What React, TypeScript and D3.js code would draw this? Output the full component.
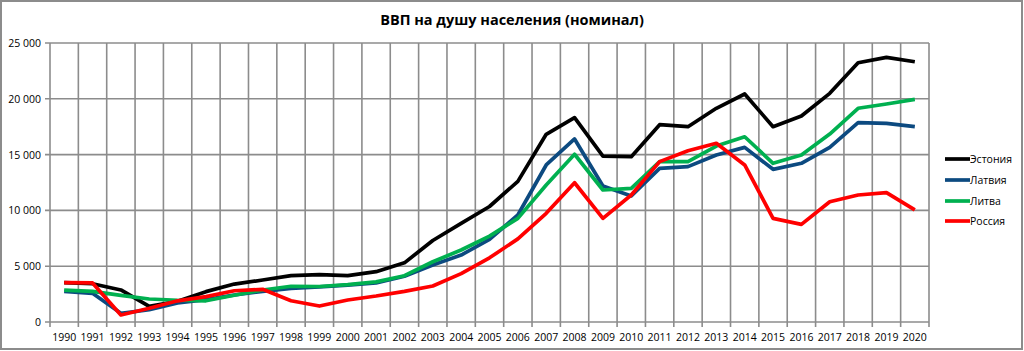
import * as d3 from "d3"

const years = d3.range(1990, 2021).map(String)

const estonia = [3530, 3430, 2870, 1400, 1850, 2720, 3400, 3760, 4150, 4240, 4150, 4510, 5300, 7300, 8840, 10350, 12600, 16820, 18310, 14870, 14810, 17680, 17500, 19150, 20430, 17500, 18460, 20490, 23230, 23710, 23320]
const latvia = [2750, 2570, 780, 1100, 1700, 2000, 2420, 2750, 3000, 3150, 3300, 3500, 4100, 5100, 6000, 7400, 9590, 14070, 16400, 12190, 11290, 13770, 13920, 14960, 15650, 13680, 14220, 15650, 17860, 17800, 17500]
const lithuania = [2850, 2750, 2380, 2060, 1950, 1900, 2400, 2870, 3200, 3180, 3350, 3600, 4150, 5400, 6450, 7700, 9290, 12280, 15030, 11830, 11980, 14370, 14370, 15770, 16600, 14220, 14960, 16840, 19150, 19530, 19950]
const russia = [3520, 3500, 630, 1230, 1900, 2270, 2800, 2930, 1900, 1430, 1970, 2330, 2750, 3230, 4330, 5750, 7450, 9740, 12480, 9290, 11380, 14370, 15350, 16010, 14070, 9290, 8750, 10780, 11380, 11590, 10040]

const seriesNames = ["Эстония", "Латвия", "Литва", "Россия"]
const seriesColors = ["#000000", "#0c4a80", "#00b050", "#ff0000"]
const seriesValues = [estonia, latvia, lithuania, russia]
const yTicks = [0, 5000, 10000, 15000, 20000, 25000]

const W = 1024
const H = 351
const margin = { left: 50, right: 95, top: 43, bottom: 29 }
const font = "'Open Sans', 'Liberation Sans', sans-serif"
const gridColor = "#8c8c8c"

const fmt = (v: number) => d3.format(",")(v).replace(/,/g, "\u00a0")

export default function App() {
  const x = d3.scaleBand().domain(years).range([margin.left, W - margin.right])
  const y = d3.scaleLinear().domain([0, 25000]).range([H - margin.bottom, margin.top])
  const bw = x.bandwidth()

  const line = d3
    .line<number>()
    .x((_, i) => (x(years[i]) as number) + bw / 2)
    .y((d) => y(d))

  const bounds = years.map((yr) => x(yr) as number).concat([W - margin.right])
  const legendRows = [159, 180, 201, 221]

  return (
    <svg width={W} height={H} style={{ position: "absolute", left: 0, top: 0 }}>
      <rect x={0} y={0} width={W} height={H} fill="#fff" />
      <rect x={1} y={1} width={1021} height={348} fill="none" stroke={gridColor} strokeWidth={2} />

      <text x={512} y={25} textAnchor="middle" fontFamily={font} fontWeight="bold" fontSize={14.5}>
        ВВП на душу населения (номинал)
      </text>

      {/* сетка */}
      {yTicks.map((t) => (
        <line key={"h" + t} x1={margin.left - 5} x2={W - margin.right} y1={y(t)} y2={y(t)} stroke={gridColor} strokeWidth={1.6} />
      ))}
      {bounds.map((b, i) => (
        <line key={"v" + i} x1={b} x2={b} y1={margin.top} y2={y(0) + 5} stroke={gridColor} strokeWidth={1.6} />
      ))}

      {yTicks.map((t) => (
        <text key={"yl" + t} x={41} y={y(t) + 4} textAnchor="end" fontFamily={font} fontSize={10.5}>
          {fmt(t)}
        </text>
      ))}
      {years.map((yr) => (
        <text key={"xl" + yr} x={(x(yr) as number) + bw / 2} y={341} textAnchor="middle" fontFamily={font} fontSize={10.5}>
          {yr}
        </text>
      ))}

      {seriesValues.map((vals, i) => (
        <path key={seriesNames[i]} d={line(vals) || ""} fill="none" stroke={seriesColors[i]} strokeWidth={3.7} strokeLinejoin="round" />
      ))}

      {seriesNames.map((name, i) => (
        <g key={"lg" + name}>
          <line x1={945} x2={970} y1={legendRows[i]} y2={legendRows[i]} stroke={seriesColors[i]} strokeWidth={3.7} />
          <text x={970} y={legendRows[i] + 4} fontFamily={font} fontSize={10.5}>
            {name}
          </text>
        </g>
      ))}
    </svg>
  )
}
